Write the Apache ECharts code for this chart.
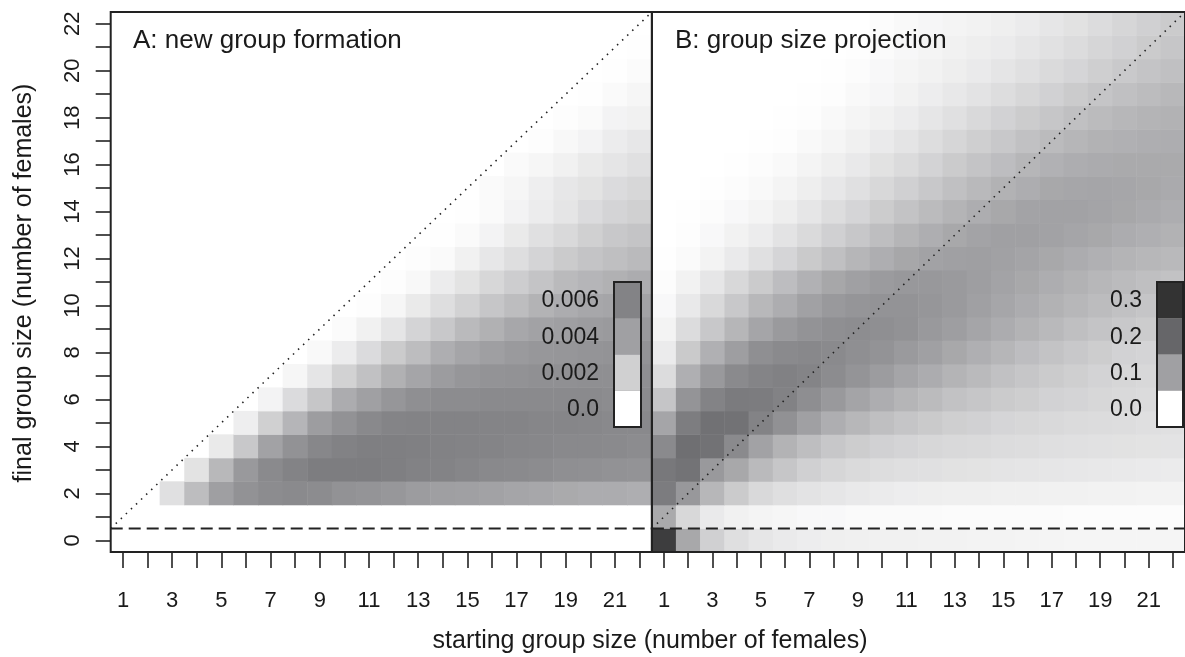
<!DOCTYPE html>
<html><head><meta charset="utf-8">
<script src="https://cdn.jsdelivr.net/npm/echarts@6/dist/echarts.min.js"></script>
<style>html,body{margin:0;padding:0;background:#fff}#c{width:1185px;height:657px}</style>
</head><body><div id="c"></div>
<script>
// ---------- categories / tick labels ----------
const xCategories = ['1','2','3','4','5','6','7','8','9','10','11','12','13','14','15','16','17','18','19','20','21','22'];
const yCategories = ['0','1','2','3','4','5','6','7','8','9','10','11','12','13','14','15','16','17','18','19','20','21','22'];
const legendAValues = [0, 0.002, 0.004, 0.006];
const legendALabels = ['0.0', '0.002', '0.004', '0.006'];
const legendBValues = [0, 0.1, 0.2, 0.3];
const legendBLabels = ['0.0', '0.1', '0.2', '0.3'];

// ---------- Panel A: new group formation (rows = final size y, cols = starting size x=1..22) ----------
const n = null;
const aY2  = [n,n,.0013,.0028,.0041,.005,.0054,.0055,.0054,.005,.0048,.0046,.0043,.0041,.004,.0039,.0038,.0037,.0036,.0035,.0035,.0034];
const aY3  = [n,n,n,.0012,.003,.0045,.0055,.006,.0064,.0064,.0064,.0063,.0061,.006,.0058,.0056,.0055,.0054,.0052,.0051,.005,.0049];
const aY4  = [n,n,n,n,.0009,.0023,.0039,.005,.0057,.0061,.0063,.0063,.0062,.0061,.006,.0059,.0058,.0057,.0056,.0056,.0055,.0054];
const aY5  = [n,n,n,n,n,.0007,.002,.0031,.0042,.005,.0056,.0059,.006,.006,.006,.0059,.0059,.0058,.0058,.0057,.0056,.0056];
const aY6  = [n,n,n,n,n,n,.0005,.0015,.0024,.0035,.004,.0047,.0052,.0054,.0054,.0055,.0055,.0055,.0055,.0055,.0054,.0054];
const aY7  = [n,n,n,n,n,n,n,.0004,.0011,.0019,.0026,.0033,.0038,.0043,.0047,.0049,.005,.0051,.0051,.0052,.0052,.0052];
const aY8  = [n,n,n,n,n,n,n,n,.00025,.0008,.0015,.0022,.0028,.0034,.0038,.0041,.0044,.0046,.0047,.0048,.0049,.0049];
const aY9  = [n,n,n,n,n,n,n,n,n,.00017,.0006,.0011,.0018,.0023,.0029,.0033,.0037,.0039,.0041,.0043,.0044,.0045];
const aY10 = [n,n,n,n,n,n,n,n,n,n,.0001,.0004,.0009,.0014,.0019,.0024,.0028,.0032,.0035,.0037,.0038,.0039];
const aY11 = [n,n,n,n,n,n,n,n,n,n,n,.0001,.0003,.0008,.0012,.0017,.0021,.0025,.0029,.0031,.0033,.0035];
const aY12 = [n,n,n,n,n,n,n,n,n,n,n,n,.0001,.0002,.0006,.001,.0014,.0018,.0022,.0025,.0027,.0029];
const aY13 = [n,n,n,n,n,n,n,n,n,n,n,n,n,.00005,.0002,.0005,.0009,.0013,.0016,.002,.0023,.0025];
const aY14 = [n,n,n,n,n,n,n,n,n,n,n,n,n,n,.00005,.0002,.0005,.0008,.0011,.0015,.0018,.002];
const aY15 = [n,n,n,n,n,n,n,n,n,n,n,n,n,n,n,.0002,.0004,.0007,.001,.0012,.0015,.0017];
const aY16 = [n,n,n,n,n,n,n,n,n,n,n,n,n,n,n,n,.0002,.0004,.0006,.0009,.0011,.0013];
const aY17 = [n,n,n,n,n,n,n,n,n,n,n,n,n,n,n,n,n,.0001,.0003,.0005,.0008,.001];
const aY18 = [n,n,n,n,n,n,n,n,n,n,n,n,n,n,n,n,n,n,.0001,.0002,.0005,.0006];
const aY19 = [n,n,n,n,n,n,n,n,n,n,n,n,n,n,n,n,n,n,n,.00004,.0002,.0004];
const aY20 = [n,n,n,n,n,n,n,n,n,n,n,n,n,n,n,n,n,n,n,n,.00004,.00017];
const aY21 = [n,n,n,n,n,n,n,n,n,n,n,n,n,n,n,n,n,n,n,n,n,.00004];

// ---------- Panel B: group size projection (rows = final size y=0..22, cols = starting size x=1..22) ----------
const bY0  = [.28,.092,.049,.034,.026,.022,.019,.017,.016,.015,.015,.014,.014,.013,.013,.012,.012,.011,.011,.011,.011,.011];
const bY1  = [.09,.041,.022,.015,.012,.01,.007,.007,.005,.005,.005,.005,.004,.004,.004,.004,.004,.003,.003,.003,.003,.003];
const bY2  = [.162,.114,.076,.055,.04,.034,.029,.026,.023,.021,.019,.018,.017,.017,.016,.016,.015,.015,.014,.014,.013,.013];
const bY3  = [.169,.178,.112,.092,.073,.06,.049,.043,.039,.036,.034,.033,.031,.03,.028,.027,.026,.025,.024,.023,.022,.021];
const bY4  = [.138,.184,.179,.138,.098,.08,.068,.059,.053,.048,.045,.042,.04,.039,.037,.036,.034,.033,.032,.031,.03,.029];
const bY5  = [.095,.16,.181,.179,.15,.126,.1,.085,.076,.067,.061,.056,.051,.048,.044,.042,.04,.038,.037,.036,.034,.033];
const bY6  = [.061,.121,.15,.164,.162,.152,.131,.112,.096,.086,.078,.072,.064,.06,.055,.052,.047,.045,.042,.04,.038,.036];
const bY7  = [.037,.084,.112,.138,.148,.153,.148,.134,.121,.107,.095,.087,.079,.073,.065,.06,.055,.051,.046,.043,.041,.039];
const bY8  = [.021,.056,.083,.103,.129,.138,.141,.138,.129,.122,.11,.1,.092,.084,.077,.069,.063,.058,.053,.047,.045,.043];
const bY9  = [.013,.037,.058,.077,.095,.11,.122,.129,.133,.129,.124,.112,.103,.095,.087,.08,.074,.067,.062,.058,.054,.051];
const bY10 = [.007,.023,.04,.058,.075,.086,.099,.112,.119,.122,.122,.117,.11,.1,.094,.087,.081,.076,.071,.065,.061,.058];
const bY11 = [.003,.014,.026,.041,.055,.069,.082,.093,.1,.109,.114,.114,.11,.103,.097,.092,.086,.081,.076,.072,.067,.064];
const bY12 = [.001,.005,.013,.022,.033,.044,.056,.066,.077,.085,.093,.098,.1,.102,.099,.096,.092,.087,.083,.079,.076,.074];
const bY13 = [0,.002,.007,.014,.02,.029,.039,.049,.059,.068,.078,.085,.092,.097,.1,.1,.098,.095,.092,.087,.084,.081];
const bY14 = [0,.001,.003,.007,.012,.018,.026,.036,.044,.054,.063,.072,.079,.086,.092,.097,.098,.098,.096,.093,.089,.086];
const bY15 = [0,0,.001,.003,.006,.012,.018,.025,.033,.041,.049,.058,.066,.074,.081,.086,.092,.094,.095,.094,.092,.089];
const bY16 = [0,0,0,.001,.003,.006,.012,.017,.023,.031,.038,.046,.055,.062,.069,.077,.082,.086,.088,.09,.09,.09];
const bY17 = [0,0,0,0,.001,.002,.006,.011,.016,.022,.028,.036,.043,.051,.058,.065,.072,.077,.081,.083,.085,.086];
const bY18 = [0,0,0,0,0,.001,.002,.006,.011,.015,.02,.026,.033,.04,.047,.054,.06,.066,.072,.076,.079,.081];
const bY19 = [0,0,0,0,0,0,.001,.002,.006,.009,.014,.019,.024,.029,.036,.042,.048,.055,.061,.066,.071,.075];
const bY20 = [0,0,0,0,0,0,0,.001,.003,.007,.011,.014,.018,.022,.027,.033,.039,.044,.051,.057,.062,.066];
const bY21 = [0,0,0,0,0,0,0,0,.001,.004,.008,.012,.015,.018,.021,.026,.032,.037,.043,.048,.055,.06];
const bY22 = [0,0,0,0,0,0,0,0,0,.003,.006,.009,.012,.014,.017,.021,.026,.031,.037,.043,.049,.055];

// reference lines (in data units): diagonal y = x and the dashed line at y = 0.5
const diagLine = [[0.5, 0.5], [22.5, 22.5]];
const cutLine  = [[0.5, 0.5], [22.5, 0.5]];

// ---------- assemble ----------
const aRows = [aY2,aY3,aY4,aY5,aY6,aY7,aY8,aY9,aY10,aY11,aY12,aY13,aY14,aY15,aY16,aY17,aY18,aY19,aY20,aY21];
const aFirstY = 2;
const bRows = [bY0,bY1,bY2,bY3,bY4,bY5,bY6,bY7,bY8,bY9,bY10,bY11,bY12,bY13,bY14,bY15,bY16,bY17,bY18,bY19,bY20,bY21,bY22];
const dataA = [], dataB = [];
aRows.forEach((row, i) => row.forEach((v, x) => { if (v !== null) dataA.push([x, i + aFirstY, v]); }));
bRows.forEach((row, y) => row.forEach((v, x) => dataB.push([x, y, v])));

const ramp = ['#ffffff', '#a0a0a3', '#666669', '#333333'];
const maxA = 0.012, maxB = 0.3;
function hex2rgb(h){return [1,3,5].map(i=>parseInt(h.substr(i,2),16));}
function rampColor(v, max){
  const t = Math.max(0, Math.min(1, v / max)) * (ramp.length - 1);
  const i = Math.min(ramp.length - 2, Math.floor(t)), f = t - i;
  const a = hex2rgb(ramp[i]), b = hex2rgb(ramp[i + 1]);
  return 'rgb(' + a.map((c, k) => Math.round(c + (b[k] - c) * f)).join(',') + ')';
}

const FONT = '"Liberation Sans", Arial, sans-serif';
const INK = '#1a1a1a';
const gridTop = 12, gridH = 540, cellW = 24.6;
const gridALeft = 110.7, gridBLeft = gridALeft + 22 * cellW;

function legend(values, labels, max, boxX, boxW, boxTop, boxH){
  const els = [], seg = boxH / values.length;
  values.forEach((v, i) => {
    const y0 = boxTop + (values.length - 1 - i) * seg;
    els.push({type:'rect', z:100, shape:{x:boxX, y:y0, width:boxW, height:seg}, style:{fill:rampColor(v, max), stroke:null}});
    els.push({type:'text', z:100, x:boxX - 15, y:y0 + seg/2 + 1,
      style:{text:labels[i], fill:INK, font:'23px ' + FONT, align:'right', textAlign:'right', verticalAlign:'middle', textVerticalAlign:'middle'}});
  });
  els.push({type:'rect', z:101, shape:{x:boxX, y:boxTop, width:boxW, height:boxH}, style:{fill:'none', stroke:'#222', lineWidth:2}});
  return els;
}

const catX = (gi) => ({
  type:'category', gridIndex:gi, data:xCategories, position:'bottom',
  axisLine:{show:false, onZero:false}, splitLine:{show:false},
  axisTick:{show:true, alignWithLabel:true, interval:0, length:16, lineStyle:{color:'#222', width:1.6}},
  axisLabel:{interval:(i)=>i%2===0, margin:38, fontSize:22, fontFamily:FONT, color:INK}
});

const option = {
  animation:false,
  backgroundColor:'#ffffff',
  grid:[
    {left:gridALeft, top:gridTop, width:22*cellW, height:gridH, show:true, z:10, backgroundColor:'transparent', borderColor:'#222', borderWidth:2},
    {left:gridBLeft, top:gridTop, width:22*cellW, height:gridH, show:true, z:10, backgroundColor:'transparent', borderColor:'#222', borderWidth:2}
  ],
  xAxis:[
    catX(0), catX(1),
    {type:'value', gridIndex:0, min:0.5, max:22.5, show:false, axisLine:{onZero:false}},
    {type:'value', gridIndex:1, min:0.5, max:22.5, show:false, axisLine:{onZero:false}}
  ],
  yAxis:[
    {type:'category', gridIndex:0, data:yCategories,
      axisLine:{show:false, onZero:false}, splitLine:{show:false},
      axisTick:{show:true, alignWithLabel:true, interval:0, length:15, lineStyle:{color:'#222', width:1.6}},
      axisLabel:{interval:(i)=>i%2===0, rotate:90, margin:27, fontSize:22, fontFamily:FONT, color:INK, align:'center', verticalAlign:'bottom'}},
    {type:'category', gridIndex:1, data:yCategories, show:false, axisLine:{onZero:false}},
    {type:'value', gridIndex:0, min:-0.5, max:22.5, show:false, axisLine:{onZero:false}},
    {type:'value', gridIndex:1, min:-0.5, max:22.5, show:false, axisLine:{onZero:false}}
  ],
  visualMap:[
    {type:'continuous', show:false, seriesIndex:0, dimension:2, min:0, max:maxA, inRange:{color:ramp}},
    {type:'continuous', show:false, seriesIndex:1, dimension:2, min:0, max:maxB, inRange:{color:ramp}}
  ],
  series:[
    {type:'heatmap', xAxisIndex:0, yAxisIndex:0, data:dataA, silent:true, emphasis:{disabled:true}},
    {type:'heatmap', xAxisIndex:1, yAxisIndex:1, data:dataB, silent:true, emphasis:{disabled:true}},
    {type:'line', xAxisIndex:2, yAxisIndex:2, data:diagLine, symbol:'none', silent:true, z:5, lineStyle:{color:'#222', width:1.6, type:[1.5,5.5]}},
    {type:'line', xAxisIndex:2, yAxisIndex:2, data:cutLine, symbol:'none', silent:true, z:5, lineStyle:{color:'#222', width:2, type:[12,6]}},
    {type:'line', xAxisIndex:3, yAxisIndex:3, data:diagLine, symbol:'none', silent:true, z:5, lineStyle:{color:'#222', width:1.6, type:[1.5,5.5]}},
    {type:'line', xAxisIndex:3, yAxisIndex:3, data:cutLine, symbol:'none', silent:true, z:5, lineStyle:{color:'#222', width:2, type:[12,6]}}
  ],
  graphic:[
    {type:'text', z:100, x:133, y:41, style:{text:'A: new group formation', fill:INK, font:'26px ' + FONT, verticalAlign:'middle', textVerticalAlign:'middle'}},
    {type:'text', z:100, x:675, y:41, style:{text:'B: group size projection', fill:INK, font:'26px ' + FONT, verticalAlign:'middle', textVerticalAlign:'middle'}},
    {type:'text', z:100, x:650, y:641, style:{text:'starting group size (number of females)', fill:INK, font:'25px ' + FONT, align:'center', textAlign:'center', verticalAlign:'middle', textVerticalAlign:'middle'}},
    {type:'text', z:100, x:24, y:283, rotation:Math.PI/2, style:{text:'final group size (number of females)', fill:INK, font:'25px ' + FONT, align:'center', textAlign:'center', verticalAlign:'middle', textVerticalAlign:'middle'}}
  ].concat(
    legend(legendAValues, legendALabels, maxA, 614, 27, 282, 145),
    legend(legendBValues, legendBLabels, maxB, 1157, 26, 282, 145)
  )
};

const chart = echarts.init(document.getElementById('c'), null, {renderer:'canvas'});
chart.setOption(option);
</script>
</body></html>
